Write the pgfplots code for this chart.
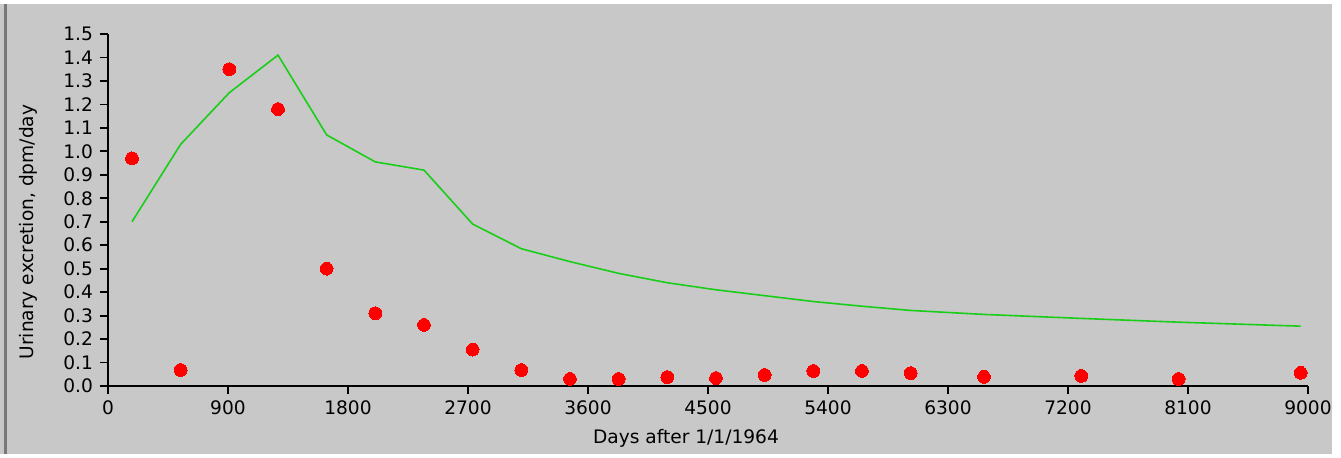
\documentclass[border=0pt]{standalone}
\usepackage{pgfplots}
\pgfplotsset{compat=1.18}
\usepackage{fontspec}
\setmainfont{DejaVu Sans}
\definecolor{bg}{RGB}{200,200,200}
\definecolor{frameline}{RGB}{120,120,120}
\definecolor{lgreen}{RGB}{25,205,25}
\pgfplotstableread{
x y
180 0.97
545 0.068
910 1.35
1275 1.18
1640 0.50
2005 0.31
2370 0.26
2735 0.155
3100 0.068
3465 0.03
3830 0.03
4195 0.038
4560 0.034
4925 0.047
5290 0.064
5655 0.064
6020 0.055
6570 0.039
7300 0.043
8030 0.030
8945 0.056
}\measured
\pgfplotstableread{
x y
180 0.70
545 1.03
910 1.25
1275 1.41
1640 1.07
2005 0.955
2370 0.92
2735 0.69
3100 0.585
3465 0.53
3830 0.48
4195 0.44
4560 0.41
4925 0.385
5290 0.36
5655 0.34
6020 0.322
6570 0.305
7300 0.288
8030 0.272
8945 0.255
}\model
\begin{document}
\begin{tikzpicture}
\fill[white] (0pt,0pt) rectangle (670.5pt,228.5pt);
\fill[bg] (0pt,1.5pt) rectangle (666pt,226.5pt);
\fill[frameline] (2pt,1.5pt) rectangle (3.5pt,226.5pt);
\begin{axis}[
  at={(54pt,35.5pt)}, anchor=origin,
  scale only axis, width=600pt, height=176pt,
  xmin=0, xmax=9000, ymin=0, ymax=1.5,
  axis lines*=left,
  axis line style={black, line width=0.9pt},
  tick style={black, line width=0.9pt},
  major tick length=4pt,
  tick align=outside,
  clip=false,
  font=\fontsize{9.3pt}{11pt}\selectfont,
  xtick={0,900,1800,2700,3600,4500,5400,6300,7200,8100,9000},
  ytick={0,0.1,0.2,0.3,0.4,0.5,0.6,0.7,0.8,0.9,1.0,1.1,1.2,1.3,1.4,1.5},
  /pgf/number format/assume math mode=true,
  xticklabel style={/pgf/number format/.cd, fixed, set thousands separator={}},
  yticklabel style={/pgf/number format/.cd, fixed, fixed zerofill, precision=1},
  every axis x label/.style={at={(axis description cs:0.4817,-0.1477)}, anchor=center},
  every axis y label/.style={at={(axis description cs:-0.0667,0.4375)}, rotate=90, anchor=center},
  xlabel={Days after 1/1/1964},
  ylabel={Urinary excretion, dpm/day},
]
\addplot[lgreen, line width=0.8pt, no markers] table[x=x,y=y] {\model};
\addplot[red, only marks, mark=*, mark size=3.2pt, mark options={fill=red, draw=red, line width=0pt}] table[x=x,y=y] {\measured};
\end{axis}
\end{tikzpicture}
\end{document}
